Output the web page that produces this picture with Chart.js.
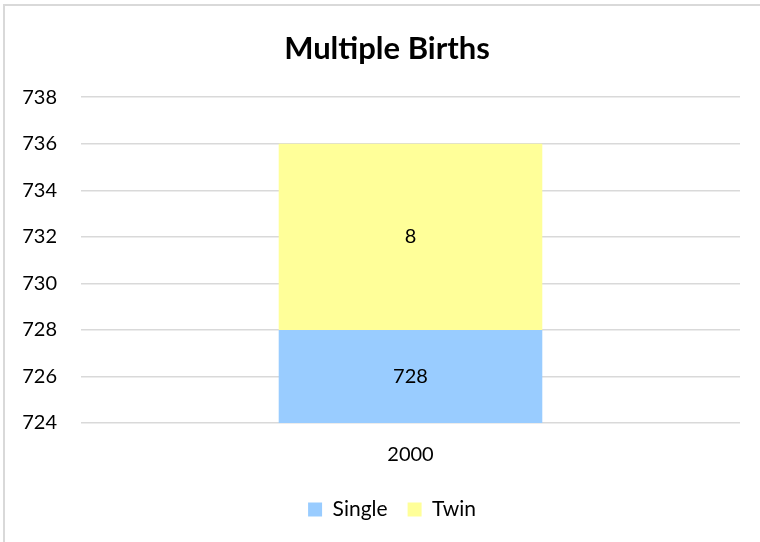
<!DOCTYPE html>
<html>
<head>
<meta charset="utf-8">
<script src="https://cdn.jsdelivr.net/npm/chart.js@4/dist/chart.umd.min.js"></script>
<style>
  html, body { margin: 0; padding: 0; background: #fff; }
  #wrap { position: relative; width: 760px; height: 542px; overflow: hidden; }
  #frame { position: absolute; left: 3px; top: 4px; width: 800px; height: 600px; border: 2px solid #d9d9d9; box-sizing: border-box; }
  canvas { position: absolute; left: 0; top: 0; }
</style>
</head>
<body>
<div id="wrap">
  <div id="frame"></div>
  <canvas id="c" width="760" height="542"></canvas>
</div>
<script>
const categories = ['2000'];
const singleValues = [728];
const twinValues = [8];
const seriesNames = ['Single', 'Twin'];
const yMin = 724, yMax = 738, yStep = 2;

const FONT = 'Lato, "Open Sans", "Liberation Sans", sans-serif';

const valueLabels = {
  id: 'valueLabels',
  afterLayout(chart) {
    // Excel centres title and legend slightly right of the canvas centre
    if (chart.titleBlock) chart.titleBlock.left += 24;
    if (chart.legend) chart.legend.left += 34;
  },
  afterDatasetsDraw(chart) {
    const ctx = chart.ctx;
    const area = chart.chartArea;
    ctx.save();
    ctx.font = '20px ' + FONT;
    ctx.fillStyle = '#000';
    ctx.textAlign = 'center';
    ctx.textBaseline = 'middle';
    chart.data.datasets.forEach((ds, i) => {
      const meta = chart.getDatasetMeta(i);
      meta.data.forEach((el, j) => {
        const top = Math.max(el.y, area.top);
        const bottom = Math.min(el.base, area.bottom);
        ctx.fillText(String(ds.data[j]), el.x, (top + bottom) / 2);
      });
    });
    ctx.restore();
  }
};

new Chart(document.getElementById('c'), {
  type: 'bar',
  data: {
    labels: categories,
    datasets: [
      { label: seriesNames[0], data: singleValues, backgroundColor: '#99CCFF', borderWidth: 0 },
      { label: seriesNames[1], data: twinValues, backgroundColor: '#FFFF99', borderWidth: 0 }
    ]
  },
  options: {
    responsive: false,
    animation: false,
    devicePixelRatio: 1,
    layout: { padding: { left: 10, right: 20, top: 10, bottom: 12 } },
    datasets: { bar: { categoryPercentage: 1, barPercentage: 0.4 } },
    plugins: {
      title: {
        display: true,
        text: 'Multiple Births',
        color: '#000',
        font: { family: FONT, size: 31, weight: 'bold' },
        padding: { top: 20, bottom: 30 }
      },
      legend: {
        position: 'bottom',
        labels: {
          color: '#000',
          font: { family: FONT, size: 21 },
          boxWidth: 14,
          boxHeight: 14,
          padding: 20
        }
      },
      tooltip: { enabled: false }
    },
    scales: {
      x: {
        stacked: true,
        grid: { display: false },
        border: { display: false },
        ticks: { color: '#000', font: { family: FONT, size: 20 }, padding: 12 }
      },
      y: {
        stacked: true,
        min: yMin,
        max: yMax,
        grid: { color: '#d9d9d9', lineWidth: 1.5, drawTicks: false },
        border: { display: false },
        ticks: { stepSize: yStep, color: '#000', font: { family: FONT, size: 20 }, padding: 24 },
        afterFit(s) { s.width = 71; }
      }
    }
  },
  plugins: [valueLabels]
});
</script>
</body>
</html>
